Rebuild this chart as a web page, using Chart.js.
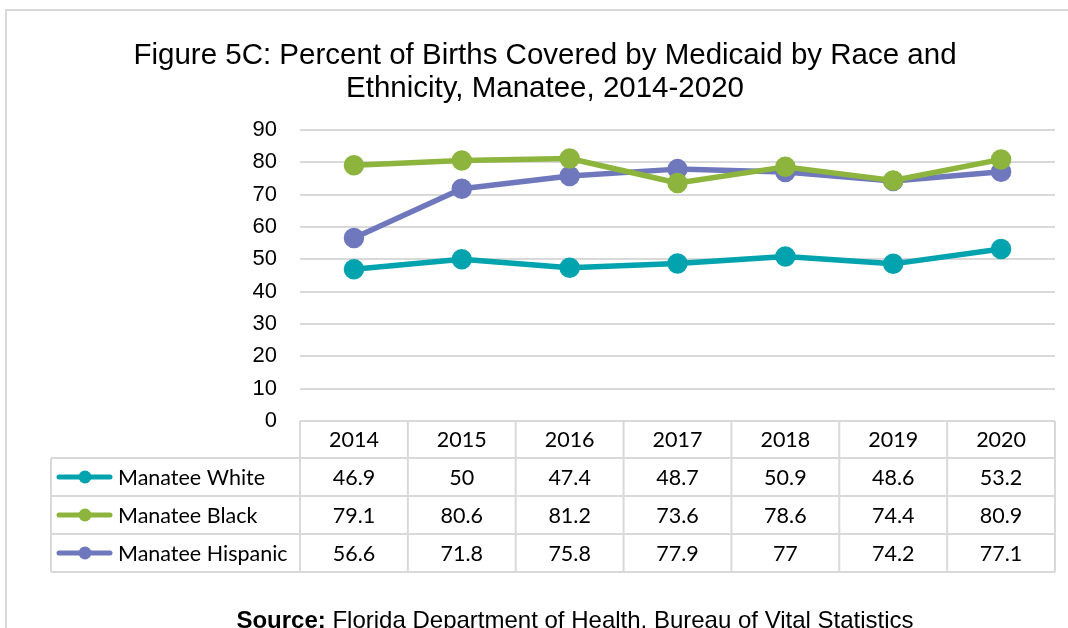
<!DOCTYPE html>
<html>
<head>
<meta charset="utf-8">
<script src="https://cdn.jsdelivr.net/npm/chart.js@4.4.1/dist/chart.umd.min.js"></script>
<style>
  html, body { margin: 0; padding: 0; background: #ffffff; }
  #wrap { width: 1068px; height: 628px; position: relative; }
</style>
</head>
<body>
<div id="wrap"><canvas id="c" width="1068" height="628"></canvas></div>
<script>
// Years shown across the bottom table
const years = ['2014', '2015', '2016', '2017', '2018', '2019', '2020'];

// Percent of births covered by Medicaid, by race / ethnicity
const manateeWhite    = [46.9, 50, 47.4, 48.7, 50.9, 48.6, 53.2];
const manateeBlack    = [79.1, 80.6, 81.2, 73.6, 78.6, 74.4, 80.9];
const manateeHispanic = [56.6, 71.8, 75.8, 77.9, 77, 74.2, 77.1];

const seriesNames  = ['Manatee White', 'Manatee Black', 'Manatee Hispanic'];
const seriesColors = ['#00a3ae', '#8db53e', '#6f78bd'];

const yTicks = [0, 10, 20, 30, 40, 50, 60, 70, 80, 90];

const titleLines = ['Figure 5C: Percent of Births Covered by Medicaid by Race and',
                    'Ethnicity, Manatee, 2014-2020'];
const sourceLabel = 'Source:';
const sourceText  = ' Florida Department of Health, Bureau of Vital Statistics';

const seriesData = [manateeWhite, manateeBlack, manateeHispanic];

const GRID = '#d9d9d9';
const SANS = '"Liberation Sans", Arial, sans-serif';
const TABLE_FONT = '"Lato", "Open Sans", sans-serif';

// Frame, title, data table with legend keys, and source note
const decorations = {
  id: 'decorations',
  beforeDraw(chart) {
    const ctx = chart.ctx;
    ctx.save();
    ctx.strokeStyle = GRID;
    ctx.lineWidth = 2;
    ctx.beginPath();
    ctx.moveTo(5, 10); ctx.lineTo(1068, 10);
    ctx.moveTo(6, 9); ctx.lineTo(6, 628);
    ctx.stroke();

    ctx.fillStyle = '#000';
    ctx.font = '29.5px ' + SANS;
    ctx.textAlign = 'center';
    ctx.textBaseline = 'alphabetic';
    ctx.fillText(titleLines[0], 545, 64);
    ctx.fillText(titleLines[1], 545, 97);
    ctx.restore();
  },
  afterDraw(chart) {
    const ctx = chart.ctx;
    const x = chart.scales.x;
    const area = chart.chartArea;
    const n = years.length;
    const colW = (area.right - area.left) / n;
    const rows = [421, 458, 496, 534, 572];
    const legendLeft = 51;

    ctx.save();
    ctx.strokeStyle = GRID;
    ctx.lineWidth = 2;
    ctx.beginPath();
    // horizontal rules
    ctx.moveTo(area.left, rows[0]); ctx.lineTo(area.right, rows[0]);
    for (let r = 1; r < rows.length; r++) {
      ctx.moveTo(legendLeft, rows[r]); ctx.lineTo(area.right, rows[r]);
    }
    // vertical rules
    ctx.moveTo(legendLeft, rows[1]); ctx.lineTo(legendLeft, rows[4]);
    for (let i = 0; i <= n; i++) {
      const vx = area.left + i * colW;
      ctx.moveTo(vx, rows[0]); ctx.lineTo(vx, rows[4]);
    }
    ctx.stroke();

    ctx.fillStyle = '#000';
    ctx.font = '21.5px ' + TABLE_FONT;
    ctx.textAlign = 'center';
    ctx.textBaseline = 'middle';
    years.forEach((yr, i) => {
      ctx.fillText(yr, x.getPixelForValue(i), (rows[0] + rows[1]) / 2 + 1);
    });
    seriesData.forEach((vals, s) => {
      const cy = (rows[s + 1] + rows[s + 2]) / 2 + 1;
      vals.forEach((v, i) => {
        ctx.fillText(String(v), x.getPixelForValue(i), cy);
      });
      // legend key
      ctx.strokeStyle = seriesColors[s];
      ctx.lineWidth = 5;
      ctx.lineCap = 'round';
      ctx.beginPath();
      ctx.moveTo(59, cy - 1); ctx.lineTo(110, cy - 1);
      ctx.stroke();
      ctx.fillStyle = seriesColors[s];
      ctx.beginPath();
      ctx.arc(85, cy - 1, 6.5, 0, Math.PI * 2);
      ctx.fill();
      ctx.fillStyle = '#000';
      ctx.textAlign = 'left';
      ctx.fillText(seriesNames[s], 118, cy);
      ctx.textAlign = 'center';
    });

    // source note
    ctx.textBaseline = 'alphabetic';
    ctx.textAlign = 'left';
    ctx.font = 'bold 24px ' + SANS;
    const w1 = ctx.measureText(sourceLabel).width;
    ctx.font = '24px ' + SANS;
    const w2 = ctx.measureText(sourceText).width;
    const sx = 575 - (w1 + w2) / 2;
    ctx.font = 'bold 24px ' + SANS;
    ctx.fillText(sourceLabel, sx, 628);
    ctx.font = '24px ' + SANS;
    ctx.fillText(sourceText, sx + w1, 628);
    ctx.restore();
  }
};

new Chart(document.getElementById('c'), {
  type: 'line',
  data: {
    labels: years,
    datasets: seriesData.map((vals, s) => ({
      label: seriesNames[s],
      data: vals,
      borderColor: seriesColors[s],
      backgroundColor: seriesColors[s],
      pointBackgroundColor: seriesColors[s],
      pointBorderColor: seriesColors[s],
      borderWidth: 5.5,
      pointRadius: 7.5,
      pointHoverRadius: 7.5,
      borderJoinStyle: 'round',
      borderCapStyle: 'round',
      tension: 0
    }))
  },
  options: {
    responsive: false,
    animation: false,
    devicePixelRatio: 1,
    events: [],
    layout: { padding: { left: 240, right: 13, top: 130, bottom: 207 } },
    plugins: {
      legend: { display: false },
      title: { display: false },
      tooltip: { enabled: false }
    },
    scales: {
      x: {
        display: false,
        offset: true
      },
      y: {
        min: 0,
        max: 90,
        afterFit(scale) { scale.width = 60; },
        afterBuildTicks(scale) { scale.ticks = yTicks.map(v => ({ value: v })); },
        border: { display: false },
        grid: { color: GRID, lineWidth: 2, drawTicks: false },
        ticks: {
          padding: 23,
          color: '#000',
          font: { family: SANS, size: 22 }
        }
      }
    }
  },
  plugins: [decorations]
});
</script>
</body>
</html>
